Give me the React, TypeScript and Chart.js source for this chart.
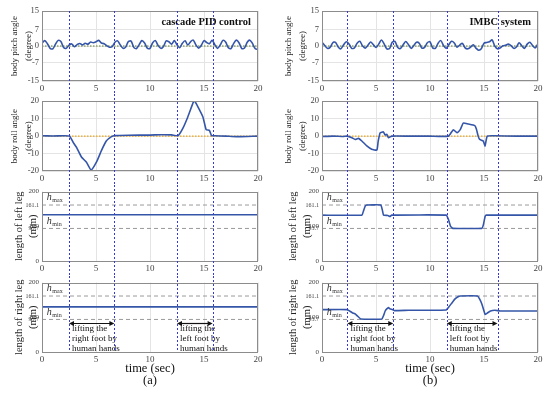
import React, { useEffect, useRef } from 'react';
import { Chart, registerables } from 'chart.js';
Chart.register(...registerables);

const FAMILY = "'Liberation Serif', 'Times New Roman', Times, serif";
const BLUE = '#3556a8';
const VCOL = '#3838d6';
const GRID = '#e4e4e4';

// ---------- data ----------
const xTicks = [0, 5, 10, 15, 20];
const pitchTicks = [-15, -7, 0, 7, 15];
const rollTicks = [-20, -10, 0, 10, 20];
const legTicks = [0, 93.7, 100, 161.1, 200];
const hMax = 161.1;
const hMin = 93.7;
const pitchStep = 0.25;

const pitchLeft = [
  1.2, 2.3, 1.0, -1.0, -1.2, 0.8, 2.4, 1.9, -0.6, -1.0,
  0.4, 0.9, -0.3, 0.6, 1.1, 0.5, 1.2, 0.8, 1.7, 1.4,
  1.8, 2.4, 1.3, 1.0, 0.1, -0.5, -0.3, 1.6, 2.2, 0.4,
  -1.0, -0.4, 1.9, 2.1, -0.6, -1.1, 0.6, 2.3, 1.3, -0.9,
  -1.0, 1.4, 2.3, 0.2, -1.0, -0.2, 2.2, 1.8, 0.8, 2.3,
  0.5, -0.7, 1.2, 2.2, 0.4, 1.8, 2.5, 0.5, -0.9, 0.3,
  2.3, 1.5, 1.0, 2.4, 0.6, -1.0, 0.4, 2.4, 1.7, -0.7,
  -1.1, 1.1, 2.5, 1.3, -1.1, -0.9, 1.6, 2.5, 1.0, -1.2,
  -1.4,
];
const pitchRight = [
  1.6, 0.2, -1.0, -0.6, 1.4, 1.6, -0.4, -1.2, 0.5, 1.8,
  0.9, -1.0, -0.8, 1.2, 2.0, 0.1, -0.9, 0.3, 1.7, 0.6,
  -0.6, 0.8, 2.6, 0.9, -1.2, -1.1, 1.6, 2.0, -0.5, -1.1,
  0.4, 1.9, 0.6, -1.0, 0.2, 1.6, 1.2, -0.9, -0.6, 1.4,
  1.8, -0.8, -1.0, 1.2, 2.3, 0.2, -1.0, 0.6, 2.0, 1.3,
  -0.5, 0.4, 1.1, -0.8, -1.2, -0.5, 0.5, -0.9, -1.8, -1.2,
  1.2, 1.5, 1.8, 2.6, 0.0, -1.2, -0.8, 0.1, 0.3, 0.8,
  0.2, -1.0, -0.4, 1.4, 0.1, -1.0, 0.8, 1.6, 0.2, -0.8,
  1.0,
];

const rollLeftT = [0, 1, 2, 2.55, 2.9, 3.2, 3.65, 4.1, 4.55, 5.05, 5.5, 5.95, 6.4, 6.75, 8, 10, 11, 12, 12.6, 13.05, 13.5, 13.95, 14.1, 14.45, 14.9, 15.2, 15.5, 15.7, 16, 17, 18, 19, 20];
const rollLeftV = [0.2, 0.1, 0.2, 0, -3.7, -6.5, -12, -14.8, -19.4, -14.8, -8.3, -2.8, -0.4, 0.3, 0.5, 0.6, 0.8, 0.7, 0.3, 4.6, 11, 18.5, 20.4, 16.7, 11, 3.7, 3.3, 0.3, 0.2, 0, -0.3, -0.2, 0];

const rollRightT = [0, 1, 2, 2.31, 2.77, 3.07, 3.38, 3.69, 4.15, 4.6, 5.08, 5.2, 5.38, 5.69, 5.85, 6.0, 6.15, 6.46, 8, 10, 11.7, 12.16, 12.5, 12.8, 13.08, 13.54, 14.15, 14.3, 14.46, 14.6, 14.93, 15.1, 15.3, 16, 18, 20];
const rollRightV = [-0.2, 0, -0.2, 0, -0.9, -1.9, -1.3, -2.8, -5.6, -7.5, -8, -3, 1.9, 2.4, 0.6, 1, -0.9, 0, 0, 0, 0, 3.7, 1.9, 3.7, 7.5, 6.9, 6, 4, 0, -1.9, -2.8, -5.6, 0, 0.2, 0, 0];

const leftLegAT = [0, 20];
const leftLegAV = [133, 133];
const rightLegAT = [0, 20];
const rightLegAV = [130, 130];

const leftLegBT = [0, 3.7, 3.85, 4.0, 4.15, 5.45, 5.6, 5.7, 6.1, 6.3, 6.45, 11.5, 11.7, 11.9, 12.1, 14.8, 14.95, 15.1, 15.2, 20];
const leftLegBV = [132, 132, 145, 158, 161.1, 161.1, 145, 132, 131, 128, 132, 132, 120, 100, 94, 94, 105, 128, 132, 132];

const rightLegBT = [0, 2.3, 2.5, 2.8, 3.1, 3.3, 3.6, 5.55, 5.7, 5.85, 6.0, 6.15, 6.3, 6.5, 6.7, 8, 11.5, 11.75, 12.0, 12.3, 12.6, 12.8, 14.4, 14.6, 14.8, 15.0, 15.1, 15.3, 15.6, 16.0, 16.5, 20];
const rightLegBV = [122, 122, 119, 113, 109, 103, 95, 95, 105, 118, 124, 128, 124, 122, 119, 120, 121, 130, 140, 152, 159, 161, 161, 152, 138, 118, 108, 112, 118, 120, 118, 118];

const vlinesA = [2.5, 6.7, 12.5, 15.8];
const vlinesB = [2.35, 6.6, 11.55, 16.25];
const arrowLevel = 84;
const noteRight = ['lifting the', 'right foot by', 'human hands'];
const noteLeft = ['lifting the', 'left foot by', 'human hands'];

// ---------- helpers ----------
const pts = (t: number[], v: number[]) => t.map((x, i) => ({ x, y: v[i] }));
const uni = (v: number[], step: number) => v.map((y, i) => ({ x: i * step, y }));
const span = (y: number) => [{ x: 0, y }, { x: 20, y }];

function lineDs(data: any[], color: string, width: number, dash: number[] = [], tension = 0) {
  return { data, borderColor: color, borderWidth: width, borderDash: dash, pointRadius: 0, tension, fill: false };
}

const deco = {
  id: 'deco',
  afterDraw(chart: any, _a: any, o: any) {
    const { ctx, chartArea: a, scales } = chart;
    const xs = scales.x, ys = scales.y;
    ctx.save();
    ctx.setLineDash([]);
    ctx.strokeStyle = '#8c8c8c';
    ctx.lineWidth = 1;
    ctx.strokeRect(Math.round(a.left) + 0.5, Math.round(a.top) + 0.5, Math.round(a.width) - 1, Math.round(a.height) - 1);

    if (o.title) {
      ctx.font = `bold 10.5px ${FAMILY}`;
      ctx.fillStyle = '#111';
      ctx.textAlign = 'right';
      ctx.textBaseline = 'alphabetic';
      ctx.fillText(o.title, a.right - 7, a.top + 13.5);
    }

    if (o.hLabels) {
      const drawH = (sub: string, val: number) => {
        const x = xs.getPixelForValue(0.45);
        const y = ys.getPixelForValue(val);
        ctx.font = `italic 10px ${FAMILY}`;
        ctx.fillStyle = '#333';
        ctx.textAlign = 'left';
        ctx.textBaseline = 'alphabetic';
        ctx.fillText('h', x, y);
        const w = ctx.measureText('h').width;
        ctx.font = `6px ${FAMILY}`;
        ctx.fillText(sub, x + w + 0.5, y + 2);
      };
      drawH('max', 176);
      drawH('min', 107);
    }

    if (o.notes) {
      const vl = o.vlines;
      const groups = [[vl[0], vl[1], noteRight], [vl[2], vl[3], noteLeft]];
      const y = Math.round(ys.getPixelForValue(arrowLevel)) + 0.5;
      groups.forEach((g: any) => {
        const x1 = xs.getPixelForValue(g[0]);
        const x2 = xs.getPixelForValue(g[1]);
        ctx.strokeStyle = '#111';
        ctx.fillStyle = '#111';
        ctx.lineWidth = 1.2;
        ctx.setLineDash([]);
        ctx.beginPath();
        ctx.moveTo(x1 + 2, y);
        ctx.lineTo(x2 - 2, y);
        ctx.stroke();
        ctx.beginPath();
        ctx.moveTo(x1, y); ctx.lineTo(x1 + 5, y - 2.5); ctx.lineTo(x1 + 5, y + 2.5); ctx.closePath();
        ctx.fill();
        ctx.beginPath();
        ctx.moveTo(x2, y); ctx.lineTo(x2 - 5, y - 2.5); ctx.lineTo(x2 - 5, y + 2.5); ctx.closePath();
        ctx.fill();
        ctx.font = `9px ${FAMILY}`;
        ctx.textAlign = 'left';
        ctx.textBaseline = 'middle';
        g[2].forEach((s: string, i: number) => ctx.fillText(s, x1 + 3, y + 5.5 + 10 * i));
      });
    }

    ctx.strokeStyle = VCOL;
    ctx.lineWidth = 1;
    ctx.setLineDash([2, 2]);
    (o.vlines || []).forEach((v: number) => {
      const px = Math.round(xs.getPixelForValue(v)) + 0.5;
      ctx.beginPath();
      ctx.moveTo(px, o.extendTop ? 0 : a.top);
      ctx.lineTo(px, o.extendBottom ? chart.height : a.bottom);
      ctx.stroke();
    });
    ctx.restore();
  },
};

function buildConfig(p: any) {
  return {
    type: 'line',
    data: { datasets: p.datasets },
    options: {
      animation: false,
      responsive: false,
      maintainAspectRatio: false,
      layout: { padding: { top: p.padTop, right: p.padRight, left: 0, bottom: 0 } },
      plugins: { legend: { display: false }, tooltip: { enabled: false }, deco: p.deco },
      scales: {
        x: {
          type: 'linear', min: 0, max: 20,
          afterBuildTicks: (s: any) => { s.ticks = xTicks.map((v) => ({ value: v })); },
          afterFit: (s: any) => { s.height = p.xAxisH; },
          grid: { color: GRID, drawTicks: false },
          border: { display: false },
          ticks: { font: { family: FAMILY, size: 9, lineHeight: 1 }, color: '#444', padding: 3, maxRotation: 0, autoSkip: false, callback: (v: any) => String(v) },
          title: p.xTitle,
        },
        y: {
          type: 'linear', min: p.yMin, max: p.yMax,
          afterBuildTicks: (s: any) => { s.ticks = p.yTicks.map((v: number) => ({ value: v })); },
          afterFit: (s: any) => { s.width = p.yAxisW; },
          grid: { display: p.yGrid, color: GRID, drawTicks: false },
          border: { display: false },
          ticks: { font: p.yTickFont, color: '#444', padding: 3, autoSkip: false, callback: (v: any) => String(v) },
          title: p.yTitle,
        },
      },
    },
    plugins: [deco],
  };
}

function Panel({ p }: { p: any }) {
  const ref = useRef<HTMLCanvasElement>(null);
  useEffect(() => {
    const chart = new Chart(ref.current as HTMLCanvasElement, buildConfig(p) as any);
    return () => chart.destroy();
  }, []);
  return (
    <canvas
      ref={ref}
      width={p.w}
      height={p.h}
      style={{ position: 'absolute', left: p.left, top: p.top, width: p.w, height: p.h }}
    />
  );
}

const ROWS = [
  { top: 0, h: 94, padTop: 11, xAxisH: 13 },
  { top: 94, h: 91, padTop: 5, xAxisH: 14 },
  { top: 185, h: 91, padTop: 5, xAxisH: 15 },
  { top: 276, h: 117, padTop: 5, xAxisH: 41 },
];

const COLS = [
  {
    left: 0, yAxisW: 42, padRight: 17, vlines: vlinesA, title: 'cascade PID control', tag: '(a)',
    pitch: pitchLeft, rollT: rollLeftT, rollV: rollLeftV,
    lT: leftLegAT, lV: leftLegAV, rT: rightLegAT, rV: rightLegAV,
    smallPad: 8, legPad: 12,
  },
  {
    left: 275, yAxisW: 47, padRight: 12, vlines: vlinesB, title: 'IMBC system', tag: '(b)',
    pitch: pitchRight, rollT: rollRightT, rollV: rollRightV,
    lT: leftLegBT, lV: leftLegBV, rT: rightLegBT, rV: rightLegBV,
    smallPad: 7, legPad: 11,
  },
];

function makePanels() {
  const out: any[] = [];
  COLS.forEach((c, ci) => {
    ROWS.forEach((r, ri) => {
      const base: any = {
        left: c.left, top: r.top, w: 275, h: r.h, padTop: r.padTop, padRight: c.padRight,
        xAxisH: r.xAxisH, yAxisW: c.yAxisW,
        xTitle: ri === 3
          ? { display: true, text: ['time (sec)', c.tag], color: '#111', font: { family: FAMILY, size: 12.5, lineHeight: 1 }, padding: { top: 0, bottom: 5.75 } }
          : { display: false },
        deco: { vlines: c.vlines, extendTop: ri > 0, extendBottom: ri < 3, title: ri === 0 ? c.title : '', hLabels: ri >= 2, notes: ri === 3 },
      };
      const smallTitle = (t: string[]) => ({ display: true, text: t, color: '#222', font: { family: FAMILY, size: 9, lineHeight: 14 / 9 }, padding: { top: c.smallPad, bottom: 0 } });
      const legTitle = (t: string[]) => ({ display: true, text: t, color: '#222', font: { family: FAMILY, size: 10.5, lineHeight: 14 / 10.5 }, padding: { top: c.legPad, bottom: 0 } });
      const smallTick = { family: FAMILY, size: 8.5, lineHeight: 1 };
      const legTick = (ctx: any) => {
        const v = ctx.tick ? ctx.tick.value : 0;
        return { family: FAMILY, size: v === 0 || v === 200 || v === 100 ? 7 : 6, lineHeight: 1 };
      };
      if (ri === 0) {
        Object.assign(base, {
          yMin: -15, yMax: 15, yTicks: pitchTicks, yGrid: true, yTickFont: smallTick,
          yTitle: smallTitle(['body pitch angle', '(degree)']),
          datasets: [lineDs(uni(c.pitch, pitchStep), BLUE, 1.6, [], 0.3), lineDs(span(0), '#5a7a2a', 1, [1.5, 1.5])],
        });
      } else if (ri === 1) {
        Object.assign(base, {
          yMin: -20, yMax: 20, yTicks: rollTicks, yGrid: true, yTickFont: smallTick,
          yTitle: smallTitle(['body roll angle', '(degree)']),
          datasets: [lineDs(pts(c.rollT, c.rollV), BLUE, 1.6, [], 0.15), lineDs(span(0), '#e8a317', 1.2, [1.5, 1.5])],
        });
      } else {
        const isLeft = ri === 2;
        Object.assign(base, {
          yMin: 0, yMax: 200, yTicks: legTicks, yGrid: false, yTickFont: legTick,
          yTitle: legTitle([isLeft ? 'length of left leg' : 'length of right leg', '(mm)']),
          datasets: [
            lineDs(isLeft ? pts(c.lT, c.lV) : pts(c.rT, c.rV), BLUE, 1.6, [], 0.1),
            lineDs(span(hMax), '#9a9a9a', 1, [4, 3]),
            lineDs(span(hMin), '#9a9a9a', 1, [4, 3]),
          ],
        });
      }
      base.key = `${ci}-${ri}`;
      out.push(base);
    });
  });
  return out;
}

const PANELS = makePanels();

export default function App() {
  return (
    <div style={{ position: 'fixed', left: 0, top: 0, width: 550, height: 393, background: '#fff', overflow: 'hidden' }}>
      {PANELS.map((p) => <Panel key={p.key} p={p} />)}
    </div>
  );
}
